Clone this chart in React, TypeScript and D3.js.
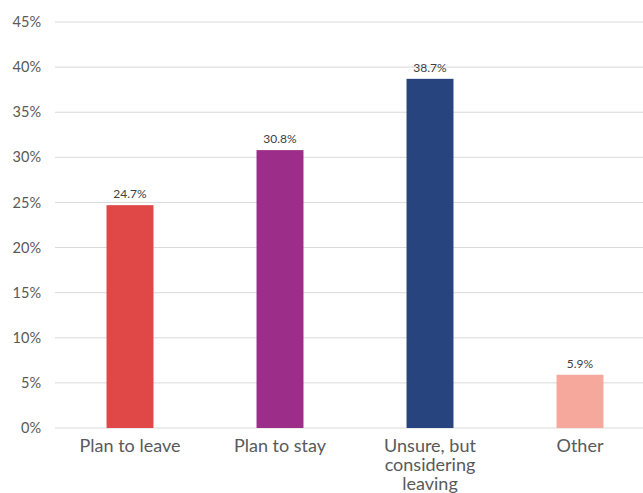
import React from "react";
import * as d3 from "d3";

const categories: string[][] = [
  ["Plan to leave"],
  ["Plan to stay"],
  ["Unsure, but", "considering", "leaving"],
  ["Other"],
];
const values = [24.7, 30.8, 38.7, 5.9];
const valueLabels = ["24.7%", "30.8%", "38.7%", "5.9%"];
const colors = ["#E04848", "#9C2E8A", "#27447E", "#F6A89C"];
const yTicks = [0, 5, 10, 15, 20, 25, 30, 35, 40, 45];

export default function App() {
  const W = 643;
  const H = 493;
  const x0 = 55;
  const x1 = 655;
  const yTop = 22;
  const yBot = 428;
  const keys = categories.map((_, i) => String(i));
  const x = d3.scaleBand<string>().domain(keys).range([x0, x1]).paddingInner(0.687).paddingOuter(0.3435);
  const y = d3.scaleLinear().domain([0, 45]).range([yBot, yTop]);
  const font = "Lato, 'Open Sans', sans-serif";
  return (
    <svg width={W} height={H} style={{ position: "absolute", left: 0, top: 0 }} fontFamily={font}>
      <rect width={W} height={H} fill="#fff" />
      {yTicks.map((t) => (
        <g key={t}>
          <line x1={x0} x2={W} y1={y(t)} y2={y(t)} stroke="#D9D9D9" strokeWidth={1} />
          <text x={41} y={y(t)} dy="0.35em" textAnchor="end" fontSize={14.5} fill="#595959">
            {t}%
          </text>
        </g>
      ))}
      {values.map((v, i) => (
        <g key={i}>
          <rect x={x(keys[i])} y={y(v)} width={x.bandwidth()} height={yBot - y(v)} fill={colors[i]} />
          <text x={(x(keys[i]) as number) + x.bandwidth() / 2} y={y(v) - 7} textAnchor="middle" fontSize={12} fill="#404040">
            {valueLabels[i]}
          </text>
          {categories[i].map((line, j) => (
            <text key={j} x={(x(keys[i]) as number) + x.bandwidth() / 2} y={452 + j * 19} textAnchor="middle" fontSize={18} fill="#595959">
              {line}
            </text>
          ))}
        </g>
      ))}
    </svg>
  );
}
